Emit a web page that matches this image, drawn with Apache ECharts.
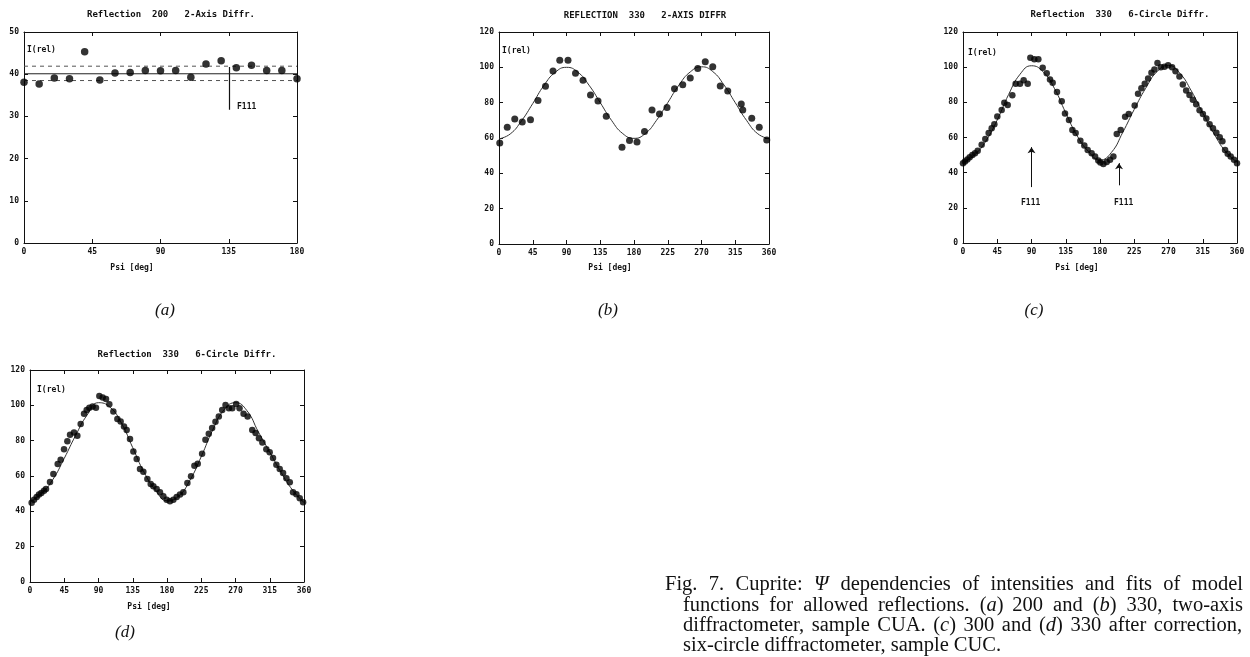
<!DOCTYPE html>
<html>
<head>
<meta charset="utf-8">
<title>Cuprite: Psi dependencies</title>
<script src="https://cdn.jsdelivr.net/npm/echarts@6.0.0/dist/echarts.min.js"></script>
<style>
  html, body { margin: 0; padding: 0; background: #fff; }
  #main { width: 1250px; height: 657px; }
</style>
</head>
<body>
<div id="main"></div>
<script>
// (a) reflection 200, 2-axis diffractometer
var aPsi = [0, 10, 20, 30, 40, 50, 60, 70, 80, 90, 100, 110, 120, 130, 140, 150, 160, 170, 180];
var aInt = [38.1, 37.7, 39.1, 38.9, 45.3, 38.6, 40.3, 40.4, 40.9, 40.8, 40.9, 39.3, 42.4, 43.2, 41.5, 42.1, 40.9, 40.9, 38.9];
var aLevels = [38.5, 40.1, 41.9];   // lower, mean, upper
var aFill = [135, 41.7, 31.6];      // psi, top, bottom

// (b) reflection 330, 2-axis diffractometer
var bPsi = [1, 11, 21, 31, 42, 52, 62, 72, 81, 92, 102, 112, 122, 132, 143, 164, 174, 184, 194, 204,
            214, 224, 234, 245, 255, 265, 275, 285, 295, 305, 323, 325, 337, 347, 357];
var bInt = [57.1, 66.1, 70.8, 69.1, 70.4, 81.2, 89.3, 97.9, 104, 104, 96.6, 92.7, 84.4, 81.0, 72.3, 54.8, 58.6, 57.8, 63.7, 75.9,
            73.6, 77.2, 87.9, 90.2, 94, 99.4, 103.2, 100.4, 89.5, 86.6, 79.3, 75.9, 71.2, 66.1, 58.9];

// model curves, read every 15 deg
var fitPsi = [0, 15, 30, 45, 60, 75, 90, 105, 120, 135, 150, 165, 180, 195, 210, 225, 240, 255, 270, 285, 300, 315, 330, 345, 360];
var bFit = [59.5, 62.3, 69.7, 79.5, 89.8, 97.2, 100, 97.3, 89.9, 80, 70, 62.5, 59.8, 62.5, 70, 80, 90, 97.4, 100.3, 97.6, 90, 80, 70, 62.4, 59.6];

// (c) reflection 330, 6-circle diffractometer
var cPsi = [0, 2.6, 5.7, 8.8, 12.3, 15.8, 19.3, 24.5, 29.3, 33.7, 37.7, 41.2, 45.1, 50.8, 54.3, 58.7, 64.8, 69.2, 74.9, 79.7,
            85, 88.5, 93.7, 99, 104.7, 110, 114.3, 117.8, 123.5, 129.7, 134, 139.3, 143.7, 148, 154.2, 159.4, 163.8, 169, 173.5, 177.8,
            180.5, 184.4, 188.8, 193.2, 197.6, 202, 207.2, 213, 217.8, 225.6, 230, 234.4, 238.8, 243.2, 247.6, 251.5, 255.5, 259.9, 264.7, 269.5,
            274.7, 279.2, 284.4, 288.8, 293.2, 297.6, 302, 306.4, 310.8, 315.2, 319.7, 324, 328.4, 332.9, 337.3, 340.8, 344.3, 347.8, 351.7, 356.1, 360];
var cInt = [45.4, 46.3, 47.5, 48.8, 50.1, 51.0, 52.4, 55.9, 59.1, 62.5, 65.2, 67.6, 71.9, 75.7, 79.7, 78.5, 84.0, 90.6, 90.6, 92.5,
            90.6, 105.3, 104.5, 104.5, 99.6, 96.6, 93.0, 91.1, 85.9, 80.6, 73.6, 69.9, 64.2, 62.5, 58.2, 55.4, 52.9, 51.0, 49.2, 46.9,
            45.8, 45.0, 46.0, 47.3, 49.2, 62.0, 64.2, 71.8, 73.3, 78.2, 84.9, 88.0, 90.6, 93.6, 96.8, 98.7, 102.4, 100.0, 100.2, 101.1,
            100.0, 97.7, 94.7, 90.2, 86.8, 84.2, 81.5, 78.9, 75.5, 73.3, 70.8, 67.6, 65.2, 62.7, 60.1, 57.8, 52.9, 50.7, 49.2, 47.3, 45.4];
var cFit = [45.5, 50, 58, 70, 84.5, 96, 100.8, 97.5, 88, 74, 61, 52, 47.2, 51.5, 63, 76, 88, 97.5, 101, 96.5, 86.5, 74, 62, 52, 46];
var cFill = [[90, 31.8, 54.5], [205, 32.8, 45.4]];   // psi, bottom, tip

// (d) reflection 330, 6-circle diffractometer, corrected
var dPsi = [2.2, 5.3, 8.8, 11.8, 14.9, 18.4, 21, 26.3, 30.7, 36.4, 40.3, 44.7, 49.1, 52.6, 57.8, 62.2, 66.6, 71, 74.5, 78,
            82.3, 86.7, 91.1, 95.5, 99.9, 104.2, 109.5, 114.8, 119.1, 123.5, 127, 131.4, 135.8, 140.2, 144.5, 148.9, 154.2, 158.6, 162.1, 166.4,
            170.8, 175.2, 179.6, 183.9, 188.3, 192.7, 197.1, 201.5, 206.8, 211.6, 216, 220.4, 226.1, 230.5, 234.9, 239.3, 243.7, 248.1, 252.5, 256.9,
            261.3, 265.7, 270.9, 275.3, 280.6, 285.9, 292, 296.4, 300.8, 305.3, 310.5, 314.9, 319.3, 323.7, 328.1, 332.5, 336.9, 341.3, 345.6, 350,
            354.4, 358.8];
var dInt = [44.8, 46.6, 48.1, 49.5, 50.4, 51.7, 52.7, 56.6, 61.1, 66.8, 69.2, 75.2, 79.6, 83.3, 84.6, 82.8, 89.5, 95.2, 97.4, 98.7,
            99.3, 98.7, 105.3, 104.4, 103.6, 100.6, 96.5, 92.2, 90.8, 88.0, 86.1, 80.9, 73.9, 69.6, 63.9, 62.4, 58.3, 55.5, 54.2, 52.7,
            50.8, 48.5, 46.6, 45.7, 46.6, 48.1, 49.5, 50.8, 56.0, 59.8, 65.8, 67.0, 72.6, 80.5, 83.9, 87.1, 90.7, 93.7, 97.4, 100.2,
            98.4, 98.4, 100.8, 98.4, 95.2, 93.7, 86.1, 84.3, 81.4, 79.0, 75.2, 73.4, 70.2, 66.4, 63.9, 61.7, 58.7, 56.4, 50.8, 49.7,
            47.4, 45.1];
var dFit = [45.5, 50, 58, 70, 83, 94.5, 101.5, 99, 90, 76, 62, 52, 46, 48.5, 57.5, 71, 86, 97.5, 101.5, 97, 85, 73.5, 62, 52, 45];

var captionLines = [
  'Fig. 7. Cuprite: {i|\u03A8} dependencies of intensities and fits of model',
  'functions for allowed reflections. ({i|a}) 200 and ({i|b}) 330, two-axis',
  'diffractometer, sample CUA. ({i|c}) 300 and ({i|d}) 330 after correction,',
  'six-circle diffractometer, sample CUC.'
];

var chart = echarts.init(document.getElementById('main'));

var mono = '"DejaVu Sans Mono", monospace';
var ink = '#111';

function pairs(xs, ys) {
  return xs.map(function (x, k) { return [x, ys[k]]; });
}

var grids = [
  { left: 24, top: 32, width: 273, height: 211 },
  { left: 499, top: 32, width: 270, height: 212 },
  { left: 963, top: 32, width: 274, height: 211 },
  { left: 30, top: 370, width: 274, height: 212 }
];
var xMax = [180, 360, 360, 360];
var yMax = [50, 120, 120, 120];
var yStep = [10, 20, 20, 20];

var xAxes = [], yAxes = [];
grids.forEach(function (g, i) {
  ['bottom', 'top'].forEach(function (pos) {
    xAxes.push({
      type: 'value', gridIndex: i, position: pos, min: 0, max: xMax[i], interval: 45,
      axisLine: { onZero: false, lineStyle: { color: ink, width: 1 } },
      axisTick: { inside: true, length: 4, lineStyle: { color: ink } },
      splitLine: { show: false },
      axisLabel: { show: pos === 'bottom', fontFamily: mono, fontSize: 8, fontWeight: 'bold', color: ink, margin: 5 }
    });
  });
  ['left', 'right'].forEach(function (pos) {
    yAxes.push({
      type: 'value', gridIndex: i, position: pos, min: 0, max: yMax[i], interval: yStep[i],
      axisLine: { show: true, onZero: false, lineStyle: { color: ink, width: 1 } },
      axisTick: { show: true, inside: true, length: 4, lineStyle: { color: ink } },
      splitLine: { show: false },
      axisLabel: { show: pos === 'left', fontFamily: mono, fontSize: 8, fontWeight: 'bold', color: ink, margin: 5 }
    });
  });
});

function dots(i, xs, ys, size) {
  return {
    type: 'scatter', xAxisIndex: 2 * i, yAxisIndex: 2 * i,
    data: pairs(xs, ys), symbolSize: size,
    itemStyle: { color: '#000' }, z: 3, silent: true
  };
}
function fitLine(i, ys) {
  return {
    type: 'line', xAxisIndex: 2 * i, yAxisIndex: 2 * i,
    data: pairs(fitPsi, ys), smooth: 0.5, showSymbol: false,
    lineStyle: { color: '#333', width: 1 }, z: 2, silent: true
  };
}
function level(y, dashed) {
  return {
    type: 'line', xAxisIndex: 0, yAxisIndex: 0,
    data: [[0, y], [xMax[0], y]], showSymbol: false, silent: true,
    lineStyle: { color: dashed ? '#555' : '#222', width: 1, type: dashed ? [4, 4] : 'solid' }
  };
}

var series = [
  level(aLevels[0], true),
  level(aLevels[1], false),
  level(aLevels[2], true),
  {
    type: 'lines', coordinateSystem: 'cartesian2d', xAxisIndex: 0, yAxisIndex: 0,
    data: [{ coords: [[aFill[0], aFill[1]], [aFill[0], aFill[2]]] }],
    lineStyle: { color: '#111', width: 1.2, opacity: 1 }, symbol: 'none', silent: true
  },
  dots(0, aPsi, aInt, 7.5),
  fitLine(1, bFit),
  dots(1, bPsi, bInt, 7),
  fitLine(2, cFit),
  {
    type: 'lines', coordinateSystem: 'cartesian2d', xAxisIndex: 4, yAxisIndex: 4,
    data: cFill.map(function (f) { return { coords: [[f[0], f[1]], [f[0], f[2]]] }; }),
    lineStyle: { color: '#111', width: 1, opacity: 1 },
    symbol: ['none', 'arrow'], symbolSize: [0, 6], silent: true
  },
  dots(2, cPsi, cInt, 6.5),
  fitLine(3, dFit),
  dots(3, dPsi, dInt, 6.5)
];

function txt(x, y, s, opt) {
  opt = opt || {};
  return {
    type: 'text', x: x, y: y, silent: true,
    style: Object.assign({
      text: s, fill: ink, font: 'bold 8px ' + mono,
      align: 'left', verticalAlign: 'middle'
    }, opt)
  };
}
var titleFont = 'bold 9px ' + mono;
var serif = '"Liberation Serif", "DejaVu Serif", serif';
var panelFont = 'italic 17px ' + serif;
var capSize = 20.5;
var capFont = capSize + 'px ' + serif;
var rich = { i: { fontStyle: 'italic', fontSize: capSize, fontFamily: serif, fill: '#111' } };

// caption is justified like the printed page: spread the words between x0 and x1
var measure = document.createElement('canvas').getContext('2d');
function captionLine(line, x0, x1, y) {
  var words = line.split(' ');
  measure.font = capFont;
  var widths = words.map(function (w) {
    return measure.measureText(w.replace(/\{i\|([^}]*)\}/g, '$1')).width;
  });
  var gap = measure.measureText(' ').width;
  if (x1) {
    var total = widths.reduce(function (s, w) { return s + w; }, 0);
    gap = (x1 - x0 - total) / (words.length - 1);
  }
  var out = [], x = x0;
  words.forEach(function (w, k) {
    out.push(txt(x, y, w, { font: capFont, rich: rich, fill: '#111' }));
    x += widths[k] + gap;
  });
  return out;
}

var graphics = [
  txt(171, 15, 'Reflection  200   2-Axis Diffr.', { font: titleFont, align: 'center' }),
  txt(645, 16, 'REFLECTION  330   2-AXIS DIFFR', { font: titleFont, align: 'center' }),
  txt(1120, 15, 'Reflection  330   6-Circle Diffr.', { font: titleFont, align: 'center' }),
  txt(187, 355, 'Reflection  330   6-Circle Diffr.', { font: titleFont, align: 'center' }),

  txt(27, 50, 'I(rel)'),
  txt(502, 51, 'I(rel)'),
  txt(968, 53, 'I(rel)'),
  txt(37, 390, 'I(rel)'),

  txt(237, 107, 'F111'),
  txt(1021, 203, 'F111'),
  txt(1114, 203, 'F111'),

  txt(132, 268, 'Psi [deg]', { align: 'center' }),
  txt(610, 268, 'Psi [deg]', { align: 'center' }),
  txt(1077, 268, 'Psi [deg]', { align: 'center' }),
  txt(149, 607, 'Psi [deg]', { align: 'center' }),

  txt(165, 311, '(a)', { font: panelFont, align: 'center' }),
  txt(608, 311, '(b)', { font: panelFont, align: 'center' }),
  txt(1034, 311, '(c)', { font: panelFont, align: 'center' }),
  txt(125, 633, '(d)', { font: panelFont, align: 'center' })
].concat(
  captionLine(captionLines[0], 665, 1243, 585),
  captionLine(captionLines[1], 683, 1243, 606),
  captionLine(captionLines[2], 683, 1242, 626),
  captionLine(captionLines[3], 683, null, 646)
);

chart.setOption({
  backgroundColor: '#fff',
  animation: false,
  grid: grids,
  xAxis: xAxes,
  yAxis: yAxes,
  series: series,
  graphic: graphics
});
</script>
</body>
</html>
